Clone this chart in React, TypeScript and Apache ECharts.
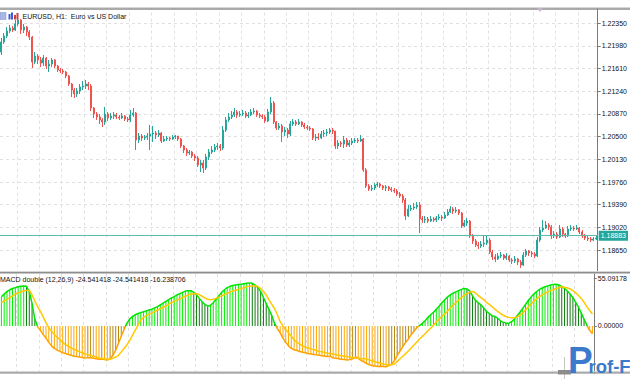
import React, { useEffect, useRef } from "react";
import * as echarts from "echarts";

// ---------- data ----------
const firstOpen = 1.21881;
const closes = [
  1.22045, 1.22142, 1.22224, 1.22273, 1.2224, 1.22338, 1.22404, 1.2224, 1.22289, 1.22208,
  1.22126, 1.21718, 1.21816, 1.21751, 1.21702, 1.21783, 1.21653, 1.21685, 1.21751, 1.21653,
  1.21588, 1.21571, 1.21555, 1.2149, 1.21359, 1.21261, 1.21196, 1.21245, 1.2131, 1.21326,
  1.21359, 1.21326, 1.20967, 1.20869, 1.20821, 1.20772, 1.20739, 1.20869, 1.20804, 1.20837,
  1.20853, 1.20821, 1.20804, 1.20837, 1.20788, 1.20772, 1.20853, 1.20886, 1.20445, 1.2051,
  1.20478, 1.20494, 1.2051, 1.20543, 1.20559, 1.20527, 1.20559, 1.20429, 1.20461, 1.20478,
  1.20461, 1.20494, 1.2051, 1.20461, 1.20347, 1.20282, 1.20233, 1.20249, 1.20184, 1.20151,
  1.20037, 1.2007, 1.19988, 1.20168, 1.20249, 1.20282, 1.20331, 1.20347, 1.20315, 1.20608,
  1.20772, 1.20821, 1.20853, 1.20902, 1.20853, 1.20869, 1.20886, 1.20837, 1.20853, 1.20902,
  1.20918, 1.20853, 1.20837, 1.20821, 1.20755, 1.20902, 1.21049, 1.20739, 1.20641, 1.20674,
  1.20576, 1.20608, 1.20543, 1.20706, 1.20739, 1.20706, 1.20739, 1.2069, 1.20657, 1.20641,
  1.20625, 1.20478, 1.20494, 1.20478, 1.20543, 1.20559, 1.20576, 1.20608, 1.20592, 1.20347,
  1.20396, 1.2038, 1.20445, 1.20364, 1.20396, 1.20429, 1.20445, 1.20429, 1.20461, 1.19956,
  1.19695, 1.19646, 1.19662, 1.19711, 1.19727, 1.19695, 1.19662, 1.19678, 1.19646, 1.19629,
  1.19613, 1.19564, 1.19531, 1.19466, 1.19205, 1.19319, 1.19335, 1.19352, 1.19384, 1.19156,
  1.1914, 1.19156, 1.19123, 1.19156, 1.1914, 1.19172, 1.19189, 1.19172, 1.19221, 1.1927,
  1.19319, 1.19287, 1.19303, 1.19254, 1.19042, 1.19091, 1.19123, 1.18879, 1.18797, 1.18732,
  1.18715, 1.18748, 1.18764, 1.18813, 1.18617, 1.18536, 1.18503, 1.18552, 1.18568, 1.18519,
  1.18552, 1.18487, 1.1847, 1.18503, 1.18454, 1.18405, 1.18568, 1.18634, 1.18601, 1.18585,
  1.18552, 1.18813, 1.18976, 1.19009, 1.19058, 1.19025, 1.18879, 1.18911, 1.18862, 1.18993,
  1.18911, 1.18879, 1.18993, 1.19009, 1.18993, 1.19009, 1.18944, 1.18879, 1.18846, 1.1883,
  1.18813, 1.1883, 1.18846,
];
const highs = [
  1.2211, 1.22191, 1.22289, 1.22322, 1.22306, 1.22404, 1.22453, 1.2242, 1.22338, 1.22306,
  1.2224, 1.22142, 1.21881, 1.21849, 1.218, 1.21832, 1.218, 1.21751, 1.21783, 1.21767,
  1.21669, 1.2162, 1.21604, 1.21571, 1.21506, 1.21375, 1.21294, 1.21294, 1.21359, 1.21408,
  1.21424, 1.21392, 1.21359, 1.20984, 1.20902, 1.20869, 1.20804, 1.20984, 1.20902, 1.20886,
  1.20902, 1.20886, 1.20853, 1.20886, 1.20853, 1.20821, 1.20935, 1.20967, 1.20902, 1.20559,
  1.20543, 1.20527, 1.20559, 1.2069, 1.20674, 1.20592, 1.20608, 1.20576, 1.2051, 1.2051,
  1.20494, 1.20527, 1.20527, 1.2051, 1.20478, 1.20364, 1.20315, 1.20282, 1.20266, 1.20217,
  1.20184, 1.20119, 1.20119, 1.20217, 1.20298, 1.20347, 1.2038, 1.20396, 1.2038, 1.20674,
  1.20821, 1.20886, 1.20918, 1.20967, 1.20935, 1.20918, 1.20935, 1.20918, 1.20902, 1.20951,
  1.20967, 1.20935, 1.20886, 1.20869, 1.20853, 1.20951, 1.21147, 1.21082, 1.20755, 1.20723,
  1.20706, 1.20657, 1.20641, 1.20755, 1.20788, 1.20772, 1.20788, 1.20755, 1.20723, 1.2069,
  1.20674, 1.20641, 1.20543, 1.20559, 1.20592, 1.20608, 1.20625, 1.20641, 1.20641, 1.20592,
  1.20445, 1.20429, 1.2051, 1.20478, 1.20445, 1.20478, 1.20478, 1.20478, 1.20527, 1.20478,
  1.19988, 1.19727, 1.19711, 1.19743, 1.1976, 1.19743, 1.19711, 1.19711, 1.19695, 1.19678,
  1.19662, 1.19646, 1.19597, 1.19564, 1.19499, 1.19384, 1.19384, 1.19417, 1.19433, 1.19433,
  1.19205, 1.19205, 1.19189, 1.19205, 1.19189, 1.19205, 1.19238, 1.19221, 1.1927, 1.19319,
  1.19368, 1.19352, 1.19352, 1.19319, 1.1927, 1.1914, 1.19172, 1.1914, 1.18911, 1.1883,
  1.18781, 1.18797, 1.18895, 1.18895, 1.18846, 1.1865, 1.18585, 1.18601, 1.18617, 1.18585,
  1.18601, 1.18568, 1.18519, 1.18552, 1.18519, 1.18487, 1.18617, 1.18666, 1.1865, 1.18634,
  1.18617, 1.18862, 1.19025, 1.1914, 1.19123, 1.19091, 1.19058, 1.1896, 1.18944, 1.19058,
  1.19025, 1.18927, 1.19042, 1.19058, 1.19042, 1.19058, 1.19025, 1.18976, 1.18911, 1.18879,
  1.18862, 1.18862, 1.18879,
];
const lows = [
  1.21832, 1.22012, 1.2211, 1.22191, 1.22208, 1.22224, 1.22306, 1.22175, 1.22191, 1.22142,
  1.22077, 1.2162, 1.21685, 1.21685, 1.21637, 1.21653, 1.21604, 1.21555, 1.21637, 1.2162,
  1.21555, 1.21539, 1.21522, 1.21457, 1.21326, 1.21147, 1.21131, 1.21147, 1.21196, 1.21261,
  1.21277, 1.21261, 1.20918, 1.20804, 1.20772, 1.20706, 1.20657, 1.2069, 1.20755, 1.20772,
  1.20788, 1.20788, 1.20772, 1.20788, 1.20755, 1.20739, 1.20739, 1.20821, 1.20282, 1.20396,
  1.20429, 1.20445, 1.20445, 1.20282, 1.20413, 1.20461, 1.20494, 1.20396, 1.20413, 1.20429,
  1.20429, 1.20445, 1.20461, 1.20429, 1.20315, 1.20233, 1.20184, 1.202, 1.20151, 1.20102,
  1.20005, 1.19923, 1.19907, 1.19956, 1.20119, 1.20217, 1.20249, 1.20282, 1.20266, 1.20282,
  1.20576, 1.20739, 1.20788, 1.20821, 1.20804, 1.20821, 1.20837, 1.20804, 1.20804, 1.20837,
  1.20869, 1.20821, 1.20804, 1.20788, 1.20723, 1.20739, 1.20869, 1.20706, 1.20608, 1.20608,
  1.20413, 1.2051, 1.20478, 1.2051, 1.20674, 1.20674, 1.2069, 1.20657, 1.20625, 1.20608,
  1.20592, 1.20445, 1.20429, 1.20445, 1.20461, 1.20494, 1.2051, 1.20543, 1.20543, 1.20298,
  1.20298, 1.20331, 1.20315, 1.20331, 1.20331, 1.20364, 1.20396, 1.20396, 1.20413, 1.19923,
  1.19662, 1.19613, 1.19613, 1.19629, 1.19678, 1.19662, 1.19629, 1.19613, 1.19613, 1.19597,
  1.1958, 1.19531, 1.19499, 1.19417, 1.1914, 1.19189, 1.19287, 1.19303, 1.19319, 1.18927,
  1.19091, 1.19091, 1.19091, 1.19107, 1.19107, 1.19107, 1.1914, 1.19123, 1.19156, 1.19205,
  1.19254, 1.19238, 1.19254, 1.19221, 1.19009, 1.19025, 1.19042, 1.18846, 1.18748, 1.18699,
  1.18666, 1.18683, 1.18699, 1.18732, 1.18585, 1.18487, 1.18454, 1.18487, 1.18519, 1.18487,
  1.18487, 1.18454, 1.18421, 1.18438, 1.18405, 1.18356, 1.18389, 1.18536, 1.18552, 1.18536,
  1.18519, 1.18536, 1.18781, 1.18944, 1.18993, 1.18976, 1.1883, 1.18846, 1.1883, 1.18846,
  1.18862, 1.18846, 1.18862, 1.1896, 1.1896, 1.18976, 1.18911, 1.18846, 1.18813, 1.18797,
  1.18781, 1.18797, 1.18813,
];
const lastPrice = 1.18883;

const macdValues = [
  34, 37, 40, 42, 43.5, 44.5, 45.5, 46, 46.5, 46,
  40, 26, 8, -1, -5, -10, -14, -19, -23, -26,
  -28, -29.5, -31, -32, -33, -34, -35, -35.5, -36, -36.5,
  -37, -36.8, -36.5, -37.5, -38, -38.5, -38.3, -39, -39.5, -38,
  -34, -28, -20, -12, -4, 3, 8, 11, 13, 14.5,
  15.5, 16.5, 17.5, 18.5, 19.5, 21, 22.5, 24.5, 26.5, 28.5,
  30.5, 32.5, 34, 36, 37.5, 39, 40.5, 41, 41, 39,
  36, 32, 28, 25, 23, 24, 27, 31, 35, 39,
  42, 44.5, 46, 47, 47.5, 48, 48.5, 49, 49.5, 50,
  49.5, 47.5, 44.5, 40, 33, 26, 19, 12, 3, -3,
  -8, -14, -19, -23, -26, -27.5, -28.5, -29.5, -30.5, -31,
  -32, -32.5, -33, -33.5, -34, -34.5, -35, -35.5, -35.2, -37,
  -37.5, -38, -38.5, -39, -39.5, -39, -38, -36, -37.5, -40,
  -41.5, -43.5, -45, -46, -46.5, -47, -46.8, -47, -47.2, -46,
  -44, -40, -34, -29, -24, -19, -15, -10, -6, -2,
  0.5, 3, 6, 10, 13, 16, 19.5, 23, 27, 30.5,
  33.5, 36, 38, 39.5, 41, 42.5, 43.5, 43, 40.5, 35,
  30, 27, 24.5, 21, 17, 14.5, 12, 11, 9, 6,
  4.5, 3.5, 3, 5, 8, 12, 16, 20.5, 25, 29.5,
  33.5, 37, 40, 42.5, 44, 45.5, 46.5, 47.5, 48, 48.5,
  47.5, 46, 43.5, 40.5, 37, 33, 27.5, 22, 15, 8,
  1, -5, -9,
];
const signalValues = [
  27, 29, 31, 33, 35, 37, 38.5, 39.5, 40.5, 41.3,
  41.5, 36, 29, 22.5, 17, 10.5, 4, -2, -6, -10,
  -13, -16, -19, -21.5, -23.5, -25.5, -27, -28.5, -29.8, -31,
  -32.3, -33.3, -34, -35, -36, -37, -37.5, -38, -38.5, -38.5,
  -37.5, -36, -34, -30, -26, -22, -17, -11, -5, 1,
  7, 10, 12, 13.5, 15, 17, 18.5, 20, 21.5, 23,
  25, 27, 28.5, 30, 31.5, 33, 34.5, 36, 37, 37.5,
  37.5, 36.5, 34.5, 32.5, 31, 30.5, 31, 32, 33.5, 35,
  36.5, 38, 39.5, 40.5, 41.5, 42.5, 43.5, 44.5, 45.5, 46,
  46.5, 46.5, 46, 43.5, 40, 36, 30, 25, 20, 13,
  5, 0, -4, -8, -12, -16, -19, -21, -23, -24.5,
  -25.5, -26.5, -27.5, -28.5, -29.5, -30, -30.8, -31.5, -32, -32.5,
  -33.3, -34, -34.5, -35, -35.5, -36, -36.5, -37, -37.3, -37.6,
  -38, -38.4, -39.5, -40.5, -41.5, -42.3, -43.2, -44, -44.7, -45,
  -45, -44, -41, -38, -35, -32, -29, -25.5, -22, -18.5,
  -15, -12, -9, -5.5, -2.5, 1, 4.5, 8, 11, 14,
  17, 20.5, 24, 27, 30, 33, 35.5, 37.5, 39, 40,
  38.5, 35.5, 33, 30.5, 27.5, 25, 22.5, 19.5, 17, 14.5,
  12.5, 11, 10, 9.5, 9.5, 10.5, 12.5, 15, 18.5, 22,
  25.5, 28.5, 31.5, 34, 36, 38, 39.5, 41, 42, 43.5,
  44.5, 45.5, 45, 44, 43, 41, 38.5, 35.5, 32, 27.5,
  22.5, 18, 14,
];

const priceMin = 1.1828;
const priceMax = 1.2272;
const priceStep = 0.0037;
const macdMin = -55.09178;
const macdMax = 60.3;
const macdStep = 55.09178;
// time-grid axis (vertical grid every 8 bars, first at bar 6): 8 bars = 10 units
const timeGridMin = -7.5;
const timeGridMax = 258.75;

const titleText = "EURUSD, H1:  Euro vs US Dollar";
const macdTitle = "MACD double (12,26,9) -24.541418 -24.541418 -16.238706";

// ---------- derived structures ----------
const categories = closes.map((_, i) => String(i));
const candleData = closes.map((c, i) => [
  i === 0 ? firstOpen : closes[i - 1],
  c,
  lows[i],
  highs[i],
]);
const histData = macdValues.map((v, i) => {
  const prev = i > 0 ? macdValues[i - 1] : v;
  const rising = v >= prev;
  const color = v >= 0 ? (rising ? "#00ee00" : "#0f7a0f") : rising ? "#b8860b" : "#ffa500";
  return { value: v, itemStyle: { color } };
});

const FONT = "Liberation Sans";
const gridLine = { color: "#e0e0e0", type: [3, 3], width: 1 };

const fmt5 = (v: number) => (Math.abs(v) < 1e-9 ? 0 : v).toFixed(5);

const catAxis = (g: number) => ({
  type: "category",
  gridIndex: g,
  data: categories,
  boundaryGap: true,
  axisLine: { show: false },
  axisTick: { show: false },
  axisLabel: { show: false },
  splitLine: { show: false },
});
const timeGridAxis = (g: number) => ({
  type: "value",
  gridIndex: g,
  min: timeGridMin,
  max: timeGridMax,
  splitNumber: 27,
  position: "bottom",
  axisLine: { show: false, onZero: false },
  axisTick: { show: false },
  axisLabel: { show: false },
  splitLine: { show: true, showMinLine: false, showMaxLine: false, lineStyle: gridLine },
});
const rightAxisCommon = {
  type: "value",
  position: "right",
  axisLine: { show: true, onZero: false, lineStyle: { color: "#7a7a7a", width: 1 } },
  axisTick: { show: true, length: 3, lineStyle: { color: "#7a7a7a" } },
  axisLabel: {
    show: true,
    margin: 4,
    fontSize: 7,
    fontFamily: FONT,
    color: "#111",
    formatter: fmt5,
    showMinLabel: false,
    showMaxLabel: false,
  },
};

const option: any = {
  animation: false,
  backgroundColor: "#ffffff",
  textStyle: { fontFamily: FONT },
  grid: [
    { left: 0, right: 30, top: 0.6, height: 272.1 },
    { left: 0, right: 30, top: 274, height: 99.5 },
  ],
  xAxis: [catAxis(0), catAxis(1), timeGridAxis(0), timeGridAxis(1)],
  yAxis: [
    {
      ...rightAxisCommon,
      gridIndex: 0,
      min: priceMin,
      max: priceMax,
      interval: priceStep,
      splitLine: { show: true, showMinLine: false, showMaxLine: false, lineStyle: gridLine },
    },
    {
      ...rightAxisCommon,
      gridIndex: 1,
      min: macdMin,
      max: macdMax,
      interval: macdStep,
      splitLine: { show: false },
    },
  ],
  visualMap: [
    {
      type: "piecewise",
      show: false,
      seriesIndex: 2,
      pieces: [
        { min: -1000, max: 0, color: "#ffa200" },
        { min: 0, max: 1000, color: "#00e600" },
      ],
    },
  ],
  series: [
    {
      type: "candlestick",
      xAxisIndex: 0,
      yAxisIndex: 0,
      data: candleData,
      barWidth: 1.5,
      itemStyle: {
        color: "#26a69a",
        color0: "#ef5350",
        borderColor: "#26a69a",
        borderColor0: "#ef5350",
        borderWidth: 1,
      },
      markLine: {
        silent: true,
        precision: 5,
        symbol: ["none", "none"],
        data: [{ yAxis: lastPrice }],
        lineStyle: { color: "#5cbcab", width: 1, type: "solid" },
        label: {
          show: true,
          position: "end",
          distance: 1,
          formatter: lastPrice.toFixed(5),
          color: "#ffffff",
          backgroundColor: "#26a69a",
          padding: [2, 2, 1, 2],
          fontSize: 7,
          fontFamily: FONT,
        },
      },
    },
    {
      type: "bar",
      xAxisIndex: 1,
      yAxisIndex: 1,
      data: histData,
      barWidth: 1,
    },
    {
      type: "line",
      xAxisIndex: 1,
      yAxisIndex: 1,
      data: macdValues,
      showSymbol: false,
      symbol: "none",
      lineStyle: { width: 1.5 },
      z: 3,
    },
    {
      type: "line",
      xAxisIndex: 1,
      yAxisIndex: 1,
      data: signalValues,
      showSymbol: false,
      symbol: "none",
      lineStyle: { width: 1.5, color: "#ffc800" },
      itemStyle: { color: "#ffc800" },
      z: 4,
    },
  ],
  graphic: {
    elements: [
      { type: "rect", z: 100, shape: { x: 0, y: 0, width: 630, height: 7.5 }, style: { fill: "#ffffff" } },
      { type: "rect", z: 100, shape: { x: 0, y: 7, width: 630, height: 1 }, style: { fill: "#d6d6d6" } },
      { type: "rect", z: 100, shape: { x: 0, y: 8.2, width: 630, height: 1.6 }, style: { fill: "#8e8e8e" } },
      { type: "rect", z: 100, shape: { x: 0, y: 271, width: 630, height: 1 }, style: { fill: "#d6d6d6" } },
      { type: "rect", z: 100, shape: { x: 0, y: 272, width: 630, height: 1.6 }, style: { fill: "#8e8e8e" } },
      { type: "rect", z: 100, shape: { x: 0, y: 371, width: 630, height: 1 }, style: { fill: "#d6d6d6" } },
      { type: "rect", z: 100, shape: { x: 0, y: 372.2, width: 630, height: 1.6 }, style: { fill: "#8e8e8e" } },
      { type: "rect", z: 100, shape: { x: 0, y: 373.8, width: 630, height: 6.2 }, style: { fill: "#ffffff" } },
      { type: "polygon", z: 101, shape: { points: [[537, 8.5], [543, 8.5], [540, 12]] }, style: { fill: "#c9b8da" } },
      { type: "rect", z: 101, shape: { x: 0, y: 12.5, width: 6, height: 7 }, style: { fill: "#aab6e4", stroke: "#7d8cc8", lineWidth: 0.5 } },
      { type: "rect", z: 101, shape: { x: 8.5, y: 14, width: 2, height: 5.5 }, style: { fill: "#3b5bd6" } },
      { type: "rect", z: 101, shape: { x: 11, y: 12.5, width: 2, height: 7 }, style: { fill: "#3b5bd6" } },
      { type: "rect", z: 101, shape: { x: 14, y: 15, width: 2, height: 4.5 }, style: { fill: "#d23b3b" } },
      { type: "rect", z: 101, shape: { x: 16.5, y: 13, width: 2, height: 6.5 }, style: { fill: "#d23b3b" } },
      {
        type: "text",
        z: 101,
        x: 22.5,
        y: 12.5,
        style: { text: titleText, fill: "#111", font: `7px "${FONT}"`, verticalAlign: "top" },
      },
      {
        type: "text",
        z: 101,
        x: 0,
        y: 276,
        style: { text: macdTitle, fill: "#111", font: `7px "${FONT}"`, verticalAlign: "top" },
      },
      { type: "line", z: 102, shape: { x1: 564.5, y1: 357, x2: 564.5, y2: 379 }, style: { stroke: "#c4c4c4", lineWidth: 1 } },
      { type: "rect", z: 102, shape: { x: 558, y: 370, width: 13, height: 4.5 }, style: { fill: "#8c8c8c" } },
      {
        type: "text",
        z: 103,
        x: 568,
        y: 342,
        style: { text: "P", fill: "#3a7bcc", font: `bold 37px "${FONT}"`, verticalAlign: "top" },
      },
      {
        type: "text",
        z: 103,
        x: 588.5,
        y: 357,
        style: { text: "rof-F", fill: "#3a7bcc", font: `bold 18.5px "${FONT}"`, verticalAlign: "top" },
      },
    ],
  },
};

export default function App() {
  const ref = useRef<HTMLDivElement>(null);
  useEffect(() => {
    document.body.style.margin = "0";
    const chart = echarts.init(ref.current as HTMLDivElement, null, { renderer: "svg" });
    chart.setOption(option);
    return () => chart.dispose();
  }, []);
  return <div ref={ref} style={{ width: 630, height: 380, position: "fixed", left: 0, top: 0 }} />;
}
